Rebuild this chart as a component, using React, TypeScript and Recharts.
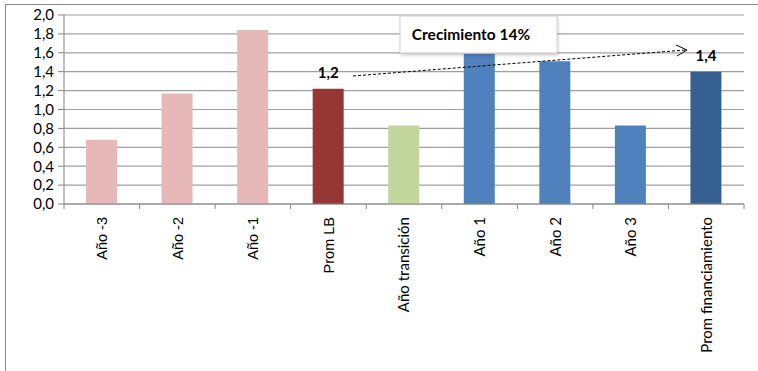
import { BarChart, Bar, XAxis, YAxis, CartesianGrid, Cell, LabelList } from 'recharts';

const categories = [
  'Año -3',
  'Año -2',
  'Año -1',
  'Prom LB',
  'Año transición',
  'Año 1',
  'Año 2',
  'Año 3',
  'Prom financiamiento',
];
const values = [0.68, 1.17, 1.84, 1.22, 0.83, 1.59, 1.51, 0.83, 1.4];
const barLabels = ['', '', '', '1,2', '', '', '', '', '1,4'];
const barColors = ['#e6b9b8', '#e6b9b8', '#e6b9b8', '#953735', '#c3d69b', '#4f81bd', '#4f81bd', '#4f81bd', '#376092'];
const yTicks = [0, 0.2, 0.4, 0.6, 0.8, 1.0, 1.2, 1.4, 1.6, 1.8, 2.0];
const noteText = 'Crecimiento 14%';

const FONT = 'Lato, "Open Sans", sans-serif';
const ARIAL = '"Liberation Sans", Arial, sans-serif';

const chartData = categories.map((name, i) => ({ name, value: values[i], label: barLabels[i] }));

const STEP = 680 / categories.length;

function CategoryTick(props: any) {
  const { x, y, payload } = props;
  const idx = categories.indexOf(payload.value);
  const last = idx === categories.length - 1;
  const arial = idx >= 0 && idx < 4;
  return (
    <g>
      <line x1={x - STEP / 2} x2={x - STEP / 2} y1={y} y2={y + 5} stroke="#868686" />
      {last && <line x1={x + STEP / 2} x2={x + STEP / 2} y1={y} y2={y + 5} stroke="#868686" />}
      <text
        transform={`translate(${x},${y + 13}) rotate(-90)`}
        textAnchor="end"
        dy="0.36em"
        fontSize={arial ? 14.5 : 15}
        fontFamily={arial ? ARIAL : FONT}
        fill="#000"
      >
        {payload.value}
      </text>
    </g>
  );
}

function BarValueLabel(props: any) {
  const { x, y, width, value } = props;
  if (!value) return null;
  return (
    <text x={x + width / 2} y={y - 11} textAnchor="middle" fontSize={15} fontWeight="bold" fontFamily={FONT} fill="#000">
      {value}
    </text>
  );
}

export default function App() {
  return (
    <div style={{ position: 'absolute', left: 0, top: 0, width: 758, height: 371, background: '#fff' }}>
      <div
        style={{
          position: 'absolute',
          left: 5,
          top: 4,
          right: 0,
          bottom: 0,
          borderTop: '1.5px solid #8a8a8a',
          borderLeft: '1.5px solid #8a8a8a',
        }}
      />
      <BarChart
        width={758}
        height={371}
        data={chartData}
        margin={{ top: 15, right: 14, bottom: 0, left: 4 }}
        barSize={31}
      >
        <CartesianGrid vertical={false} stroke="#a0a0a0" strokeWidth={1.2} />
        <XAxis
          dataKey="name"
          height={167}
          interval={0}
          tickLine={false}
          tickSize={0}
          tickMargin={0}
          axisLine={{ stroke: '#868686' }}
          tick={<CategoryTick />}
        />
        <YAxis
          width={60}
          domain={[0, 2]}
          ticks={yTicks}
          interval={0}
          tickSize={6}
          tickMargin={4}
          tickLine={{ stroke: '#868686' }}
          axisLine={{ stroke: '#868686' }}
          tick={{ fontSize: 15, fontFamily: FONT, fill: '#000' }}
          tickFormatter={(v: number) => v.toFixed(1).replace('.', ',')}
        />
        <Bar dataKey="value" isAnimationActive={false}>
          {chartData.map((d, i) => (
            <Cell key={d.name} fill={barColors[i]} />
          ))}
          <LabelList dataKey="label" content={<BarValueLabel />} />
        </Bar>
      </BarChart>
      <svg width={758} height={371} style={{ position: 'absolute', left: 0, top: 0, pointerEvents: 'none' }}>
        <defs>
          <filter id="sh" x="-10%" y="-10%" width="130%" height="150%">
            <feDropShadow dx="1" dy="2" stdDeviation="1.5" floodColor="#000" floodOpacity="0.18" />
          </filter>
        </defs>
        <rect x={400} y={16} width={157} height={37} fill="#fff" stroke="#cfcfcf" filter="url(#sh)" />
        <text x={471} y={40} textAnchor="middle" fontSize={15.5} fontWeight="bold" fontFamily={FONT} fill="#000">
          {noteText}
        </text>
        <line x1={353} y1={76} x2={686} y2={50} stroke="#000" strokeDasharray="3 2" strokeWidth={1} />
        <polyline points="676,45 687,50 677,56" fill="none" stroke="#000" strokeWidth={1} />
      </svg>
    </div>
  );
}
